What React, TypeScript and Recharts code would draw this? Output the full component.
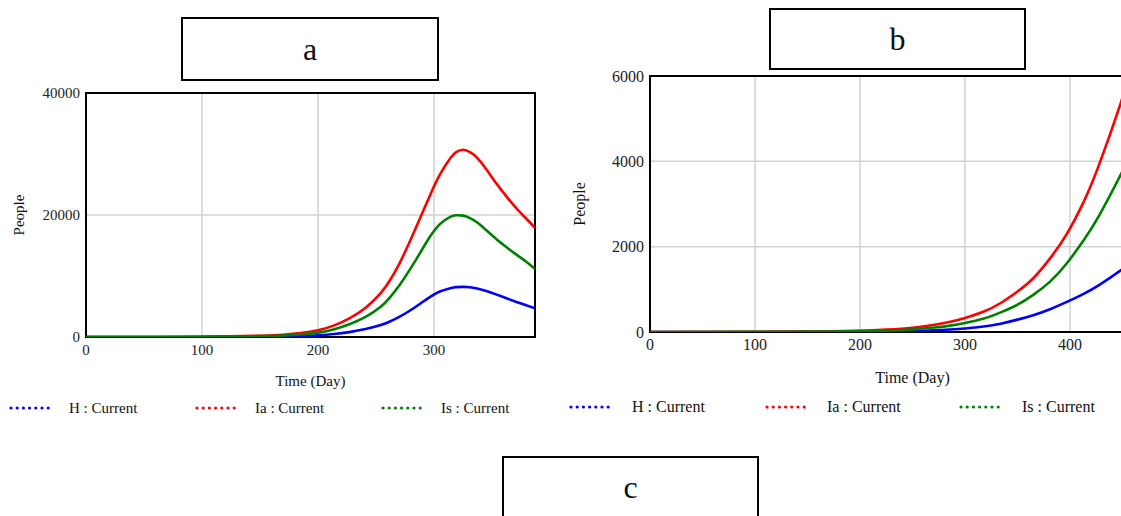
import { LineChart, Line, XAxis, YAxis, CartesianGrid, ReferenceArea, Legend, Label } from 'recharts';

// panel a: epidemic peak around day 321-325
const DAYS_A = [0, 50, 100, 150, 170, 185, 200, 214, 227, 241, 254, 262, 270, 279, 288, 296, 305, 314, 319, 325, 331, 337, 345, 354, 363, 371, 380, 387];
const H_A = [0, 2, 10, 45, 85, 150, 270, 480, 800, 1300, 1950, 2550, 3300, 4300, 5450, 6500, 7450, 8000, 8170, 8220, 8160, 7950, 7550, 6950, 6300, 5750, 5150, 4700];
const IA_A = [2, 10, 50, 210, 380, 640, 1100, 1900, 3050, 4800, 7200, 9300, 12000, 15600, 19500, 23000, 26600, 29300, 30300, 30700, 30300, 29400, 27500, 25100, 22900, 21100, 19300, 17900];
const IS_A = [1, 6, 30, 140, 250, 420, 720, 1280, 2100, 3300, 4950, 6500, 8450, 11000, 13800, 16300, 18500, 19700, 19950, 19900, 19500, 18800, 17500, 16000, 14650, 13500, 12250, 11150];
const X_TICKS_A = [0, 100, 200, 300];
const Y_TICKS_A = [0, 20000, 40000];

// panel b: early growth, cut off by the right edge of the page
const DAYS_B = [0, 100, 150, 200, 225, 250, 271, 286, 300, 318, 334, 350, 365, 381, 397, 413, 428, 448, 455];
const H_B = [0, 1, 3, 7, 12, 22, 38, 58, 82, 128, 195, 290, 395, 535, 705, 895, 1105, 1440, 1575];
const IA_B = [1, 5, 12, 30, 55, 100, 170, 240, 330, 480, 680, 950, 1260, 1725, 2300, 3050, 3940, 5340, 5930];
const IS_B = [1, 3, 8, 20, 32, 60, 105, 150, 210, 315, 460, 640, 870, 1180, 1610, 2150, 2740, 3670, 4030];
const X_TICKS_B = [0, 100, 200, 300, 400];
const Y_TICKS_B = [0, 2000, 4000, 6000];

const SERIES = ['H', 'Ia', 'Is'];
const SERIES_NAMES = ['H : Current', 'Ia : Current', 'Is : Current'];
const COLORS = ['#0000ff', '#ff0000', '#008000'];
const PANEL_TITLES = ['a', 'b', 'c'];

const FONT = "'Liberation Serif', 'Times New Roman', serif";

const tableA = DAYS_A.map((day, i) => ({ day, H: H_A[i], Ia: IA_A[i], Is: IS_A[i] }));
const tableB = DAYS_B.map((day, i) => ({ day, H: H_B[i], Ia: IA_B[i], Is: IS_B[i] }));

function DottedLegend({ payload, slots, fontSize }: any) {
  return (
    <div style={{ position: 'relative', height: 20 }}>
      {(payload || []).map((p: any, i: number) => (
        <div key={p.value} style={{ position: 'absolute', left: slots[i][0], top: 0, height: 20 }}>
          <svg width={42} height={20} style={{ position: 'absolute', left: 0, top: 0 }}>
            <line x1={2} y1={10} x2={40} y2={10} stroke={p.color} strokeWidth={3.2}
              strokeDasharray="0 6.2" strokeLinecap="round" />
          </svg>
          <span style={{ position: 'absolute', left: slots[i][1] - slots[i][0], top: 0, lineHeight: '20px',
            whiteSpace: 'nowrap', fontSize, color: '#111' }}>{p.value}</span>
        </div>
      ))}
    </div>
  );
}

function Panel({ data, xDomain, xTicks, yMax, yTicks, width, height, margin, yAxisWidth, xAxisHeight,
  fontSize, legendTop, legendSlots, labelOffset }: any) {
  return (
    <LineChart width={width} height={height} data={data} margin={margin}>
      <CartesianGrid stroke="#d2d2d2" strokeWidth={1.5} />
      <XAxis dataKey="day" type="number" domain={xDomain} ticks={xTicks} interval={0} allowDataOverflow
        tickLine={false} axisLine={false} tickSize={0} tickMargin={7} height={xAxisHeight}
        tick={{ fill: '#222', fontSize }}>
        <Label value="Time (Day)" position="insideBottom" offset={labelOffset} fill="#111" fontSize={fontSize} />
      </XAxis>
      <YAxis type="number" domain={[0, yMax]} ticks={yTicks} interval={0} allowDataOverflow
        tickLine={false} axisLine={false} tickSize={0} tickMargin={6} width={yAxisWidth} tick={{ fill: '#222', fontSize }}>
        <Label value="People" angle={-90} position="insideLeft" offset={19} fill="#111" fontSize={fontSize}
          style={{ textAnchor: 'middle' }} />
      </YAxis>
      <ReferenceArea x1={xDomain[0]} x2={xDomain[1]} y1={0} y2={yMax} fill="none" fillOpacity={0}
        stroke="#000" strokeWidth={2} />
      {SERIES.map((key, i) => (
        <Line key={key} dataKey={key} name={SERIES_NAMES[i]} type="natural" stroke={COLORS[i]}
          strokeWidth={2.6} dot={false} activeDot={false} isAnimationActive={false} />
      ))}
      <Legend layout="horizontal" verticalAlign="middle" align="center"
        wrapperStyle={{ left: 0, top: legendTop, width, height: 20 }}
        content={(props: any) => <DottedLegend payload={props.payload} slots={legendSlots} fontSize={fontSize} />} />
    </LineChart>
  );
}

const boxStyle = (left: number, top: number, width: number, height: number): any => ({
  position: 'absolute', left, top, width, height, boxSizing: 'border-box', border: '2px solid #000',
  display: 'flex', alignItems: 'center', justifyContent: 'center', fontSize: 32, color: '#111', background: '#fff',
});

export default function App() {
  return (
    <div style={{ position: 'absolute', left: 0, top: 0, width: 1121, height: 516, overflow: 'hidden',
      background: '#fff', fontFamily: FONT }}>
      <div style={{ position: 'absolute', left: 0, top: 80 }}>
        <Panel data={tableA} xDomain={[0, 387]} xTicks={X_TICKS_A} yMax={40000} yTicks={Y_TICKS_A}
          width={545} height={340} margin={{ top: 13, right: 10, bottom: 33, left: 0 }} yAxisWidth={86}
          xAxisHeight={50} fontSize={15} legendTop={318} labelOffset={1.5}
          legendSlots={[[9, 69], [195, 255], [381, 441]]} />
      </div>
      <div style={{ position: 'absolute', left: 560, top: 60 }}>
        <Panel data={tableB} xDomain={[0, 500]} xTicks={X_TICKS_B} yMax={6000} yTicks={Y_TICKS_B}
          width={625} height={360} margin={{ top: 16, right: 10, bottom: 36, left: 0 }} yAxisWidth={90}
          xAxisHeight={52} fontSize={16} legendTop={337} labelOffset={1}
          legendSlots={[[9, 72], [205, 267], [399, 462]]} />
      </div>
      <div style={boxStyle(181, 17, 258, 64)}>{PANEL_TITLES[0]}</div>
      <div style={boxStyle(769, 8, 257, 62)}>{PANEL_TITLES[1]}</div>
      <div style={boxStyle(502, 456, 257, 70)}>
        <span style={{ marginTop: -8 }}>{PANEL_TITLES[2]}</span>
      </div>
    </div>
  );
}
